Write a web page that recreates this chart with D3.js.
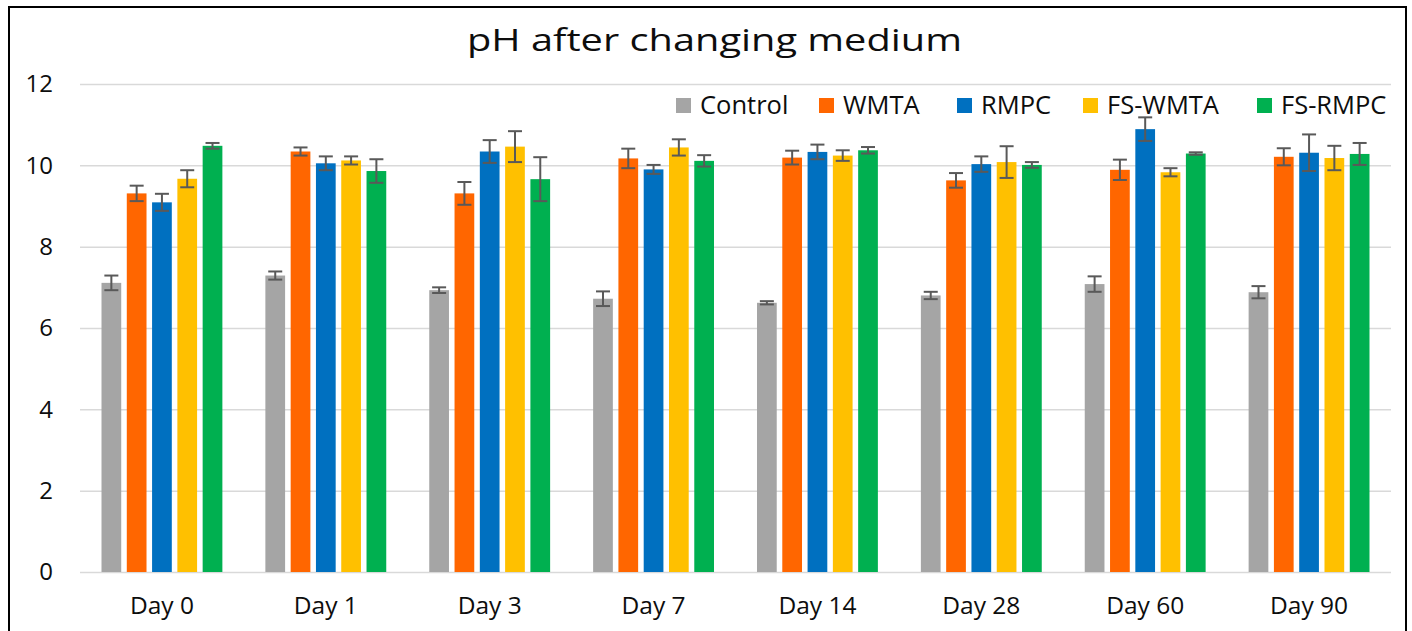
<!DOCTYPE html>
<html>
<head>
<meta charset="utf-8">
<script src="https://cdn.jsdelivr.net/npm/d3@7"></script>
<style>
  body { margin: 0; background: #fff; }
  svg { display: block; font-family: "Open Sans", Lato, sans-serif; }
</style>
</head>
<body>
<svg id="chart" width="1412" height="631"></svg>
<script>
// pH after changing medium, mean +/- sd
const days = ["Day 0", "Day 1", "Day 3", "Day 7", "Day 14", "Day 28", "Day 60", "Day 90"];
const seriesNames = ["Control", "WMTA", "RMPC", "FS-WMTA", "FS-RMPC"];
const colors = ["#A5A5A5", "#FF6600", "#0070C0", "#FFC000", "#00B050"];

const control = [7.11, 7.29, 6.93, 6.72, 6.62, 6.80, 7.08, 6.88];
const wmta = [9.31, 10.34, 9.31, 10.17, 10.19, 9.63, 9.89, 10.21];
const rmpc = [9.09, 10.05, 10.34, 9.90, 10.33, 10.03, 10.89, 10.31];
const fsWmta = [9.67, 10.12, 10.46, 10.44, 10.24, 10.08, 9.83, 10.18];
const fsRmpc = [10.48, 9.86, 9.66, 10.11, 10.37, 10.01, 10.29, 10.28];

const controlErr = [0.18, 0.10, 0.07, 0.18, 0.04, 0.09, 0.19, 0.15];
const wmtaErr = [0.19, 0.10, 0.28, 0.24, 0.17, 0.18, 0.25, 0.21];
const rmpcErr = [0.21, 0.17, 0.28, 0.11, 0.18, 0.19, 0.29, 0.45];
const fsWmtaErr = [0.21, 0.10, 0.38, 0.20, 0.13, 0.39, 0.10, 0.30];
const fsRmpcErr = [0.07, 0.29, 0.54, 0.14, 0.08, 0.07, 0.03, 0.27];

const yTicks = [0, 2, 4, 6, 8, 10, 12];

const values = [control, wmta, rmpc, fsWmta, fsRmpc];
const errors = [controlErr, wmtaErr, rmpcErr, fsWmtaErr, fsRmpcErr];

const rows = [];
days.forEach((day, i) => {
  seriesNames.forEach((s, j) => {
    rows.push({ day, series: s, value: values[j][i], err: errors[j][i], color: colors[j] });
  });
});

const svg = d3.select("#chart");

const plotLeft = 80, plotRight = 1391, plotTop = 84, plotBottom = 572;

// frame
svg.append("rect")
  .attr("x", 9).attr("y", 7)
  .attr("width", 1397).attr("height", 640)
  .attr("fill", "none")
  .attr("stroke", "#000")
  .attr("stroke-width", 2);

// title (stretched a little, like the source image)
svg.append("text")
  .attr("x", 467).attr("y", 51)
  .attr("font-size", 31)
  .attr("textLength", 495)
  .attr("lengthAdjust", "spacingAndGlyphs")
  .attr("fill", "#0d0d0d")
  .text("pH after changing medium");

const y = d3.scaleLinear().domain([0, 12]).range([plotBottom, plotTop]);
const x0 = d3.scaleBand().domain(days).range([plotLeft, plotRight]);
const inset = 21.5;
const x1 = d3.scaleBand().domain(seriesNames)
  .range([inset, x0.bandwidth() - inset])
  .paddingInner(0.22);

// gridlines
svg.append("g")
  .attr("transform", `translate(${plotLeft},0)`)
  .call(d3.axisLeft(y).tickValues(yTicks).tickSize(-(plotRight - plotLeft)).tickFormat(""))
  .call(g => g.select(".domain").remove())
  .call(g => g.selectAll("line").attr("stroke", "#D9D9D9").attr("stroke-width", 1.5));

// y labels
svg.append("g")
  .attr("transform", "translate(53,0)")
  .call(d3.axisLeft(y).tickValues(yTicks).tickSize(0).tickPadding(0))
  .call(g => g.select(".domain").remove())
  .call(g => g.selectAll("text")
    .attr("font-size", 24)
    .attr("font-family", "'Open Sans', sans-serif")
    .attr("fill", "#0d0d0d"));

// x labels
svg.append("g")
  .attr("transform", `translate(0,${plotBottom})`)
  .call(d3.axisBottom(x0).tickSize(0).tickPadding(0))
  .call(g => g.select(".domain").remove())
  .call(g => g.selectAll("text")
    .attr("y", 42)
    .attr("dy", 0)
    .attr("font-size", 24.5)
    .attr("font-family", "'Open Sans', sans-serif")
    .attr("fill", "#0d0d0d"));

// bars
const groups = svg.append("g").selectAll("g")
  .data(days)
  .join("g")
  .attr("transform", d => `translate(${x0(d)},0)`);

groups.selectAll("rect")
  .data(d => rows.filter(r => r.day === d))
  .join("rect")
  .attr("x", d => x1(d.series))
  .attr("y", d => y(d.value))
  .attr("width", x1.bandwidth())
  .attr("height", d => y(0) - y(d.value))
  .attr("fill", d => d.color);

// error bars
const cap = 7;
const eb = groups.selectAll("g.err")
  .data(d => rows.filter(r => r.day === d))
  .join("g")
  .attr("class", "err")
  .attr("stroke", "#595959")
  .attr("stroke-width", 2);

eb.append("line")
  .attr("x1", d => x1(d.series) + x1.bandwidth() / 2)
  .attr("x2", d => x1(d.series) + x1.bandwidth() / 2)
  .attr("y1", d => y(d.value + d.err))
  .attr("y2", d => y(d.value - d.err));
eb.append("line")
  .attr("x1", d => x1(d.series) + x1.bandwidth() / 2 - cap)
  .attr("x2", d => x1(d.series) + x1.bandwidth() / 2 + cap)
  .attr("y1", d => y(d.value + d.err))
  .attr("y2", d => y(d.value + d.err));
eb.append("line")
  .attr("x1", d => x1(d.series) + x1.bandwidth() / 2 - cap)
  .attr("x2", d => x1(d.series) + x1.bandwidth() / 2 + cap)
  .attr("y1", d => y(d.value - d.err))
  .attr("y2", d => y(d.value - d.err));

// legend
const legendX = [676, 819, 957, 1083, 1257];
const legend = svg.append("g").selectAll("g")
  .data(seriesNames)
  .join("g")
  .attr("transform", (d, i) => `translate(${legendX[i]},98)`);
legend.append("rect")
  .attr("width", 15).attr("height", 15)
  .attr("fill", (d, i) => colors[i]);
legend.append("text")
  .attr("x", 24).attr("y", 16)
  .attr("font-size", 25.5)
  .attr("fill", "#0d0d0d")
  .text(d => d);
</script>
</body>
</html>
